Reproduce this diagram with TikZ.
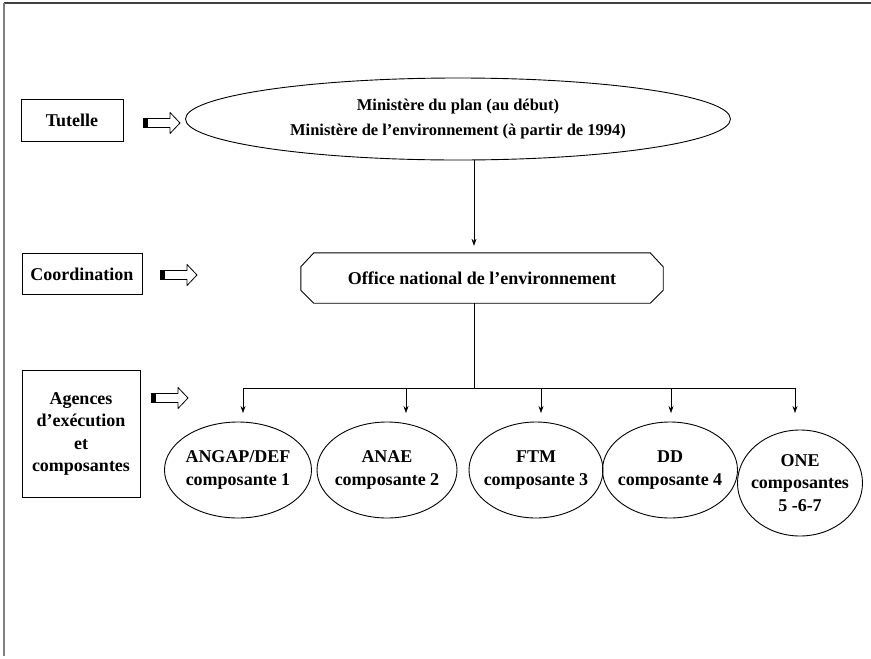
\documentclass[tikz,border=0pt]{standalone}
\usepackage{fontspec}
\setmainfont{Liberation Serif}
\usetikzlibrary{shapes.geometric,arrows.meta}
\newcommand\blkarrow[1]{%
  \fill (#1) ++(0,-5) rectangle ++(5,10);
  \draw[blk] (#1) ++(5,-4.5) -- ++(22,0) -- ++(0,-6) -- ++(10,10.5) -- ++(-10,10.5) -- ++(0,-6) -- ++(-22,0);}
\begin{document}
\begin{tikzpicture}[x=1pt,y=-1pt,
  txt/.style={font=\bfseries\fontsize{18}{22.5}\selectfont, align=center, inner sep=0},
  lbl/.style={txt, draw, line width=0.6pt},
  ell/.style={txt, ellipse, draw, line width=0.9pt, inner xsep=-20pt},
  conn/.style={draw, line width=0.6pt, -{Stealth[length=7pt,width=5pt]}},
  blk/.style={line width=0.8pt, line join=round}]
\useasboundingbox (0,0) rectangle (871,659);
\draw[line width=1.4pt, black!75] (4,3) -- (871,3);
\draw[line width=1.2pt, black!50] (4,3) -- (4,656);

% left labels
\node[lbl, minimum width=102pt, minimum height=42pt] (tut) at (72,120) {Tutelle};
\node[lbl, minimum width=120pt, minimum height=41pt] (coo) at (82,274) {Coordination};
\node[lbl, minimum width=118pt, minimum height=127pt] (age) at (81,434) {Agences\\d’exécution\\et\\composantes};

% block arrows
\coordinate (a1) at (143,123);
\coordinate (a2) at (160,275);
\coordinate (a3) at (151,398);
\blkarrow{a1}
\blkarrow{a2}
\blkarrow{a3}

% top ellipse
\node[ell, font=\bfseries\fontsize{16.5}{25}\selectfont, minimum width=545pt, minimum height=82pt] (min) at (458,119)
  {Ministère du plan (au début)\\Ministère de l’environnement (à partir de 1994)};

% octagon
\node[txt, minimum width=362pt, minimum height=50pt] (onat) at (482,278) {Office national de l’environnement};
\draw[line width=0.9pt] ([xshift=13pt]onat.north west) -- ([xshift=-13pt]onat.north east)
  -- ([yshift=-14pt]onat.north east) -- ([yshift=13pt]onat.south east)
  -- ([xshift=-13pt]onat.south east) -- ([xshift=13pt]onat.south west)
  -- ([yshift=13pt]onat.south west) -- ([yshift=-14pt]onat.north west) -- cycle;

% components
\node[ell, minimum width=147pt, minimum height=96pt] (e1) at (238,470) {ANGAP/DEF\\composante 1};
\node[ell, minimum width=140pt, minimum height=96pt] (e2) at (387,470) {ANAE\\composante 2};
\node[ell, minimum width=134pt, minimum height=96pt] (e3) at (536,470) {FTM\\composante 3};
\node[ell, minimum width=135pt, minimum height=96pt] (e4) at (670,470) {DD\\composante 4};
\node[ell, minimum width=125pt, minimum height=106pt] (e5) at (800,483) {ONE\\composantes\\5 -6-7};

% connectors
\coordinate (trunk) at (474,388);
\coordinate (tips) at (0,413);
\draw[conn] (min.south -| trunk) -- ([yshift=7pt]onat.north -| trunk);
\draw[line width=0.6pt] (onat.south -| trunk) -- (trunk);
\coordinate (b1) at (243,388);
\coordinate (b2) at (406,388);
\coordinate (b3) at (541,388);
\coordinate (b4) at (671,388);
\coordinate (b5) at (795,388);
\draw[line width=0.6pt] (b1) -- (b5);
\foreach \b in {b1,b2,b3,b4,b5} { \draw[conn] (\b) -- (\b |- tips); }
\end{tikzpicture}
\end{document}
